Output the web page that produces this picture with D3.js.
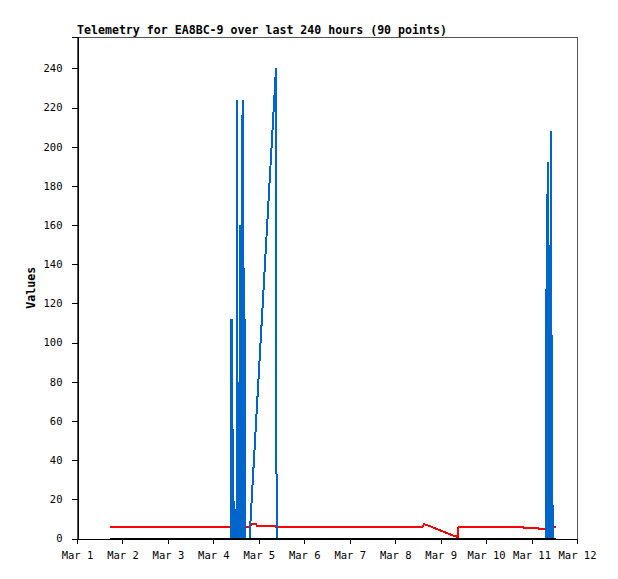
<!DOCTYPE html>
<html>
<head>
<meta charset="utf-8">
<script src="https://cdn.jsdelivr.net/npm/d3@7"></script>
<style>
  html, body { margin: 0; padding: 0; background: #fff; }
  svg { display: block; }
  text { font-family: "DejaVu Sans Mono", "Liberation Mono", monospace; }
</style>
</head>
<body>
<svg id="chart" width="618" height="579"></svg>
<script>
// ---- data ----
const titleText = "Telemetry for EA8BC-9 over last 240 hours (90 points)";
const yLabelText = "Values";
const xDomain = ["2024-03-01 00:00", "2024-03-12 00:00"];
const yTicks = [0, 20, 40, 60, 80, 100, 120, 140, 160, 180, 200, 220, 240];
const xTickLabels = ["Mar 1","Mar 2","Mar 3","Mar 4","Mar 5","Mar 6","Mar 7","Mar 8","Mar 9","Mar 10","Mar 11","Mar 12"];

const blueTimes = [
  "2024-03-01 17:25","2024-03-04 09:19","2024-03-04 09:35","2024-03-04 09:50","2024-03-04 10:28","2024-03-04 10:44",
  "2024-03-04 12:13","2024-03-04 12:23","2024-03-04 12:38","2024-03-04 13:01","2024-03-04 13:16",
  "2024-03-04 13:58","2024-03-04 14:10","2024-03-04 14:23","2024-03-04 14:42","2024-03-04 14:55",
  "2024-03-04 15:14","2024-03-04 15:26","2024-03-04 15:49","2024-03-04 16:05","2024-03-04 16:36","2024-03-04 16:52",
  "2024-03-04 19:05","2024-03-05 09:04","2024-03-05 09:23",
  "2024-03-11 07:47","2024-03-11 07:57","2024-03-11 08:16","2024-03-11 08:38","2024-03-11 08:57",
  "2024-03-11 09:22","2024-03-11 09:38","2024-03-11 10:10","2024-03-11 10:26","2024-03-11 10:51","2024-03-11 11:07",
  "2024-03-11 12:45"
];
const blueValues = [
  0, 0, 112, 0, 56, 0,
  0, 224, 0, 80, 0,
  0, 160, 0, 104, 0,
  216, 0, 224, 0, 112, 0,
  0, 240, 0,
  0, 176, 0, 192, 0,
  104, 0, 208, 0, 104, 0,
  0
];

const redTimes = [
  "2024-03-01 17:25","2024-03-04 19:21","2024-03-04 19:52","2024-03-04 22:31","2024-03-04 23:02",
  "2024-03-05 08:17","2024-03-05 08:48","2024-03-05 09:29","2024-03-05 10:08",
  "2024-03-08 14:25","2024-03-08 15:13","2024-03-08 16:32","2024-03-09 07:19","2024-03-09 09:04","2024-03-09 09:26",
  "2024-03-10 19:29","2024-03-10 20:01","2024-03-11 03:25","2024-03-11 03:56","2024-03-11 07:22","2024-03-11 07:54",
  "2024-03-11 12:45"
];
const redValues = [
  6, 6, 7.4, 7.2, 6.6,
  6.6, 6, 7, 6,
  6, 7.2, 7, 1.2, 0.9, 6,
  6, 5.5, 5.5, 5, 5, 6,
  6
];

const blackTimes = ["2024-03-01 17:25", "2024-03-11 12:45"];
const blackValues = [0, 0];

// ---- chart ----
(function () {
const parse = d3.timeParse("%Y-%m-%d %H:%M");
const mLeft = 77, mRight = 577, mTop = 37, mBottom = 538.5;

const svg = d3.select("#chart");
const x = d3.scaleTime().domain(xDomain.map(parse)).range([mLeft, mRight]);
const y = d3.scaleLinear().domain([0, 256]).range([mBottom, mTop]);

const toPts = (ts, vs) => ts.map((t, i) => ({ t: parse(t), v: vs[i] }));
const line = d3.line().x(d => x(d.t)).y(d => y(d.v)).curve(d3.curveLinear);

// frame
svg.append("rect")
  .attr("x", mLeft + 0.5).attr("y", mTop + 0.5)
  .attr("width", mRight - mLeft).attr("height", mBottom - mTop)
  .attr("fill", "none").attr("stroke", "#555").attr("stroke-width", 1)
  .attr("shape-rendering", "crispEdges");

// series
svg.append("path").datum(toPts(redTimes, redValues))
  .attr("d", line).attr("fill", "none").attr("stroke", "#ff0000")
  .attr("stroke-width", 2).attr("stroke-linejoin", "miter")
  .attr("shape-rendering", "crispEdges");

svg.append("path").datum(toPts(blueTimes, blueValues))
  .attr("d", line).attr("fill", "none").attr("stroke", "#0066cc")
  .attr("stroke-width", 2).attr("stroke-linejoin", "bevel")
  .attr("shape-rendering", "crispEdges");

svg.append("path").datum(toPts(blackTimes, blackValues))
  .attr("d", line).attr("fill", "none").attr("stroke", "#000")
  .attr("stroke-width", 2)
  .attr("shape-rendering", "crispEdges");

// axes
const xTickDates = d3.timeDay.range(parse(xDomain[0]), d3.timeDay.offset(parse(xDomain[1]), 1));
const xAxis = d3.axisBottom(x)
  .tickValues(xTickDates)
  .tickFormat((d, i) => xTickLabels[i])
  .tickSize(5).tickPadding(8);
const gx = svg.append("g").attr("transform", `translate(0,${mBottom})`).call(xAxis);
gx.select(".domain").attr("stroke", "#000").attr("shape-rendering", "crispEdges");
gx.selectAll(".tick line").attr("stroke", "#000").attr("shape-rendering", "crispEdges");
gx.selectAll("text").attr("font-size", "10.5px").attr("fill", "#000")
  .attr("font-family", "DejaVu Sans Mono, monospace");

const yAxis = d3.axisLeft(y).tickValues(yTicks).tickSize(6).tickPadding(9);
const gy = svg.append("g").attr("transform", `translate(${mLeft + 0.5},0)`).call(yAxis);
gy.select(".domain").attr("stroke", "#000").attr("shape-rendering", "crispEdges");
gy.selectAll(".tick line").attr("stroke", "#000").attr("shape-rendering", "crispEdges");
gy.selectAll("text").attr("font-size", "10.5px").attr("fill", "#000")
  .attr("font-family", "DejaVu Sans Mono, monospace");

// title
svg.append("text")
  .attr("x", mLeft).attr("y", 34)
  .attr("font-size", "11.6px").attr("font-weight", "bold")
  .attr("fill", "#000")
  .text(titleText);

// y label
svg.append("text")
  .attr("transform", `translate(35,${(mTop + mBottom) / 2}) rotate(-90)`)
  .attr("text-anchor", "middle")
  .attr("font-size", "11.6px").attr("font-weight", "bold")
  .attr("fill", "#000")
  .text(yLabelText);
})();
</script>
</body>
</html>
